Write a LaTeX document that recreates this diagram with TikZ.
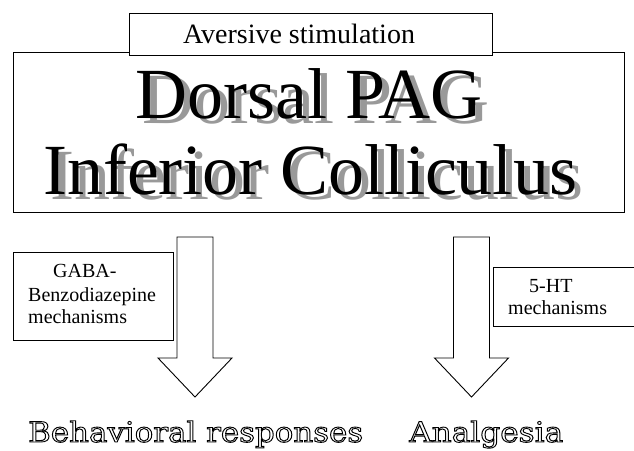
\documentclass[tikz,border=0pt]{standalone}
\usepackage{fontspec}
\usepackage{graphicx}
\setmainfont{Liberation Serif}
\newfontfamily\slabfont{DejaVu Serif}
\newcommand\hollow[1]{\special{pdf:literal direct 1 Tr 0.9 w}#1\special{pdf:literal direct 0 Tr}}
\newcommand\shadowed[1]{\rlap{\hspace{7pt}\raisebox{-5pt}{\textcolor{black!40}{#1}}}#1}
\tikzset{
  box/.style={draw, line width=0.9pt, fill=white, inner sep=0pt, anchor=north west},
  blockarrow/.style={draw, fill=white, line width=0.9pt, line join=miter},
  bigtxt/.style={font=\fontsize{72}{80}\selectfont, inner sep=0pt, anchor=base},
  smalltxt/.style={font=\fontsize{20}{23}\selectfont, inner sep=0pt, anchor=base west},
  outltxt/.style={font=\slabfont\fontsize{28}{32}\selectfont, inner sep=0pt, anchor=base west},
  pics/blockarr/.style={code={
    \draw[blockarrow] (-18,0) -- (18,0) -- (18,121) -- (37,121) -- (0,160)
      -- (-37,121) -- (-18,121) -- cycle;}}
}
\begin{document}
\begin{tikzpicture}[x=1pt,y=-1pt]
\useasboundingbox (0,0) rectangle (634,450);
% main box
\node[box, minimum width=611pt, minimum height=160pt] (main) at (13,52) {};
% aversive box
\node[box, minimum width=363pt, minimum height=42pt] (avers) at (129,13) {};
\node[font=\fontsize{28}{30}\selectfont, inner sep=0pt, anchor=base] (aversT) at (299,43) {Aversive stimulation};
% big shadowed text
\node[bigtxt] (dorsal) at (309,118) {\shadowed{Dorsal PAG}};
\node[bigtxt] (inf) at (310,194) {\shadowed{Inferior Colliculus}};
% arrows
\pic (larr) at (195,237) {blockarr};
\pic (rarr) at (471.5,237) {blockarr};
% GABA box
\node[box, minimum width=160pt, minimum height=88pt] (gaba) at (13,252) {};
\node[smalltxt] (g1) at (53,277) {GABA-};
\node[smalltxt] (g2) at (28,301) {Benzodiazepine};
\node[smalltxt] (g3) at (28,323) {mechanisms};
% 5-HT box
\node[box, minimum width=145pt, minimum height=59pt] (ht) at (493,267) {};
\node[smalltxt] (h1) at (529,292) {5-HT};
\node[smalltxt] (h2) at (508,314) {mechanisms};
% outlined bottom labels
\node[outltxt] (beh) at (28,442) {\hollow{\resizebox{335pt}{\height}{Behavioral responses}}};
\node[outltxt] (ana) at (409,442) {\hollow{\resizebox{154pt}{\height}{Analgesia}}};
\end{tikzpicture}
\end{document}
